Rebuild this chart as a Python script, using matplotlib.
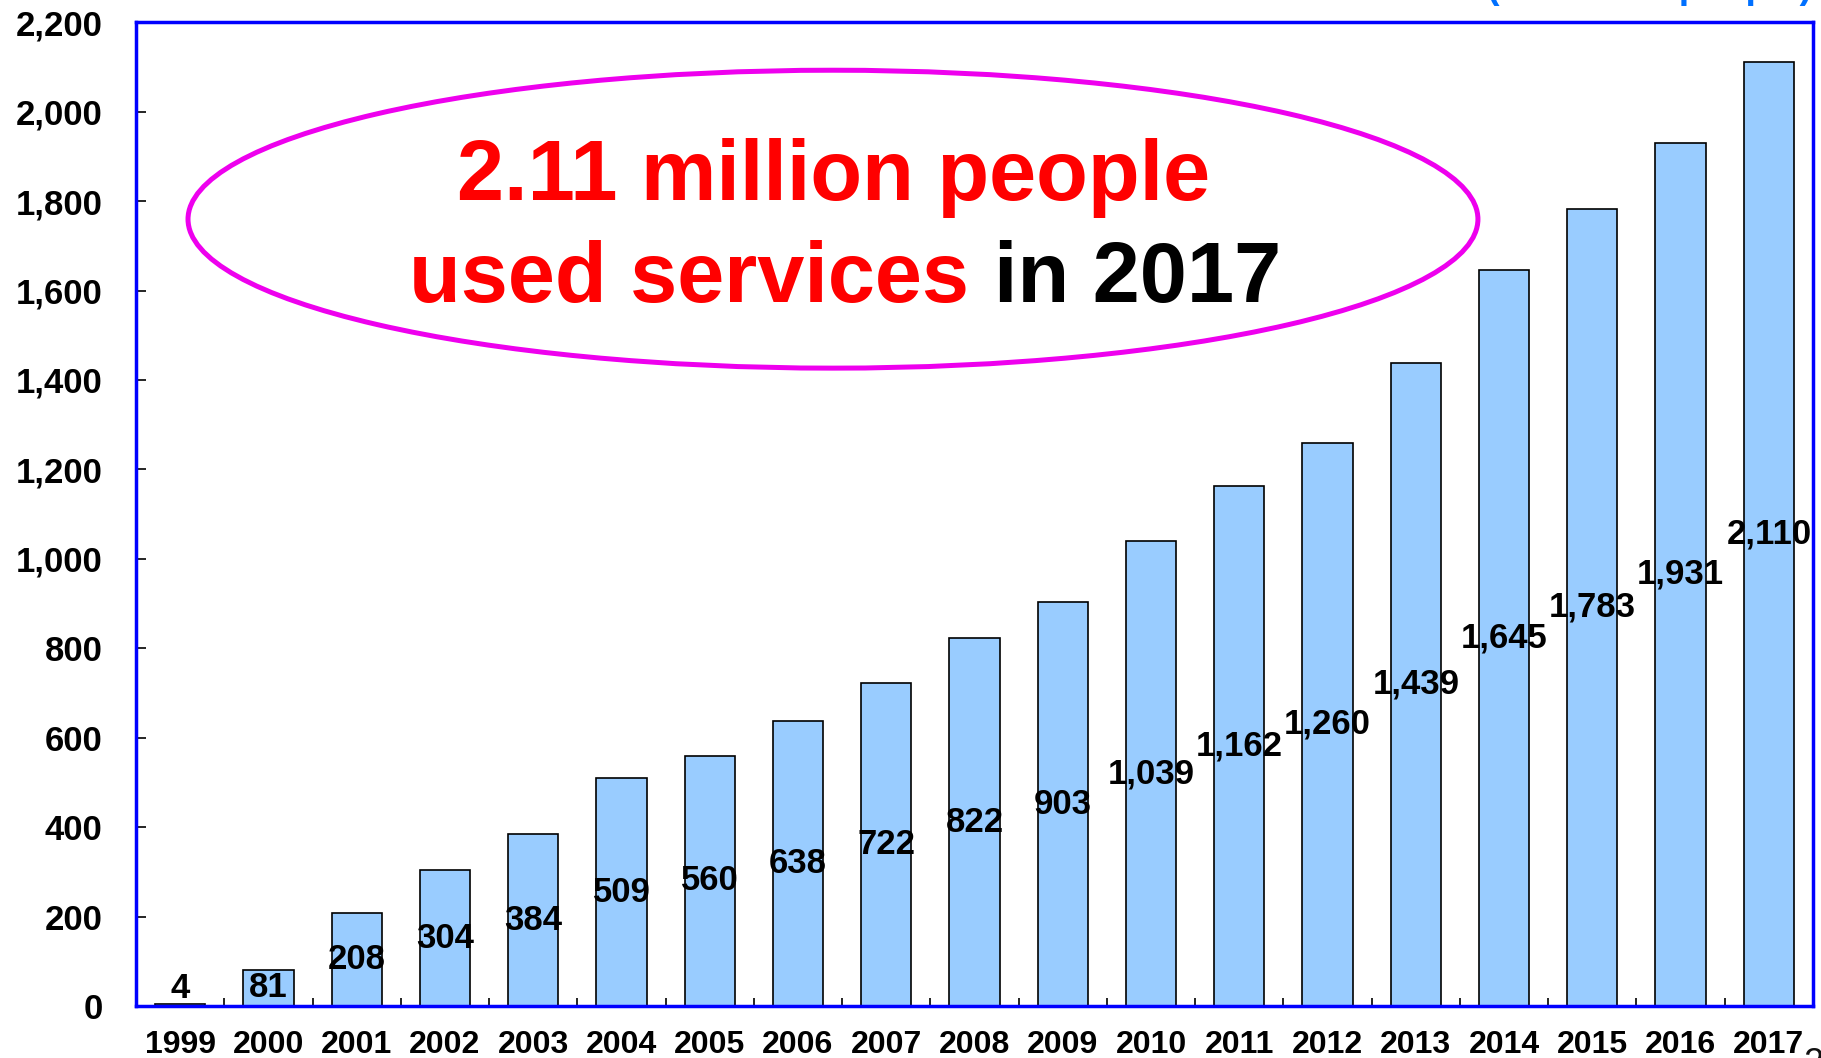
import matplotlib
matplotlib.use("Agg")
import matplotlib.pyplot as plt
from matplotlib.patches import Ellipse
from matplotlib.ticker import FuncFormatter, MultipleLocator

plt.rcParams['font.family'] = ['Liberation Sans', 'DejaVu Sans']
plt.rcParams['font.weight'] = 'bold'

# data (thousand people)
years = ['1999', '2000', '2001', '2002', '2003', '2004', '2005', '2006', '2007', '2008',
         '2009', '2010', '2011', '2012', '2013', '2014', '2015', '2016', '2017']
users = [4, 81, 208, 304, 384, 509, 560, 638, 722, 822,
         903, 1039, 1162, 1260, 1439, 1645, 1783, 1931, 2110]

fig = plt.figure(figsize=(18.21, 10.58), dpi=100)
ax = fig.add_axes([0.0747, 0.0491, 0.9209, 0.9299])

x = list(range(len(years)))
ax.bar(x, users, width=0.57, color='#99CCFF', edgecolor='black', linewidth=1.2, zorder=2)

# value labels in the middle of each bar
for xi, v in zip(x, users):
    ax.text(xi, max(v / 2, 40), f'{v:,}', ha='center', va='center',
            fontsize=25, fontweight='bold', color='black', zorder=3)

ax.set_xlim(-0.5, len(years) - 0.5)
ax.set_ylim(0, 2200)
ax.yaxis.set_major_locator(MultipleLocator(200))
ax.yaxis.set_major_formatter(FuncFormatter(lambda v, p: f'{int(v):,}'))
ax.tick_params(axis='y', direction='in', length=7, width=1.2, color='black',
               labelsize=25, pad=24)

ax.set_xticks(x)
ax.set_xticklabels(years)
ax.set_xticks([i + 0.5 for i in x[:-1]], minor=True)
ax.tick_params(axis='x', which='major', length=0, labelsize=23, pad=17)
ax.tick_params(axis='x', which='minor', direction='in', length=6, width=1.2, color='black')
for lab in ax.get_xticklabels() + ax.get_yticklabels():
    lab.set_fontweight('bold')

for s in ax.spines.values():
    s.set_color('#0000FF')
    s.set_linewidth(2.5)

# callout
ax.add_patch(Ellipse((0.4156, 0.7998), 0.7692, 0.3028, transform=ax.transAxes,
                     facecolor='none', edgecolor='#EE00EE', linewidth=3.6, zorder=4))
ax.text(0.416, 0.819, '2.11 million people', transform=ax.transAxes, ha='center',
        va='baseline', fontsize=61, fontweight='bold', color='#FF0000', zorder=5)
ax.text(0.4965, 0.7154, 'used services', transform=ax.transAxes, ha='right',
        va='baseline', fontsize=61, fontweight='bold', color='#FF0000', zorder=5)
ax.text(0.5118, 0.7154, 'in 2017', transform=ax.transAxes, ha='left',
        va='baseline', fontsize=61, fontweight='bold', color='black', zorder=5)

# unit label, mostly cut off at the top edge
fig.text(1812 / 1821, 1.002, '(thousand people)', ha='right', va='baseline',
         fontsize=27, fontweight='bold', color='#0070FF')

# slide number, cut off in the corner
fig.text(1803 / 1821, 11 / 1058, '2', ha='left', va='top',
         fontsize=26, fontweight='normal', color='#111111')

fig.savefig('out.png', dpi=100)
